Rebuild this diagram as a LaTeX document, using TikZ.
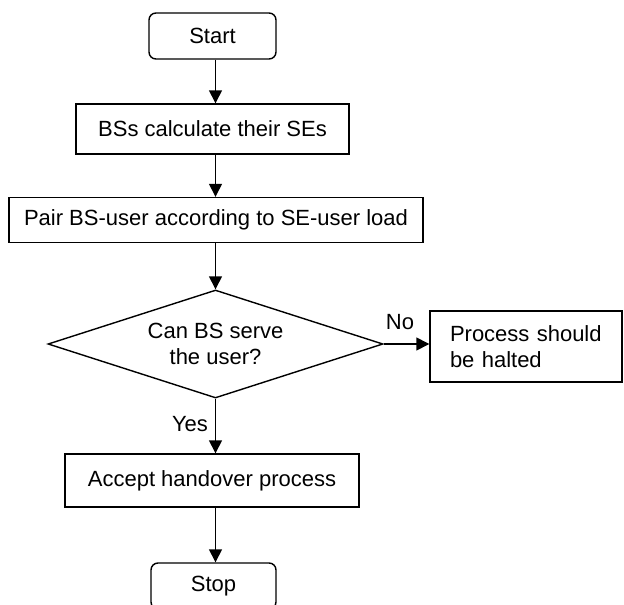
\documentclass[tikz,border=0pt]{standalone}
\usepackage{fontspec}
\setmainfont{Liberation Sans}
\usetikzlibrary{shapes.geometric,arrows.meta}
\begin{document}
\begin{tikzpicture}[x=1pt,y=-1pt,
  every node/.style={font=\fontsize{22}{26}\selectfont, inner sep=0pt},
  procbox/.style={draw, line width=1.4pt, minimum width=#1},
  termbox/.style={draw, line width=1.4pt, rounded corners=7pt, minimum width=127pt, minimum height=46pt},
  arr/.style={line width=1.4pt, -{Triangle[width=13pt,length=13pt]}}
]
\useasboundingbox (0,0) rectangle (624,605);
\node[termbox] (start) at (212.5,36) {Start};
\node[procbox=273pt, minimum height=50pt] (b1) at (212.5,129) {BSs calculate their SEs};
\node[procbox=414pt, minimum height=45pt] (pair) at (216,220) {Pair BS-user according to SE-user load};
\node[draw, diamond, aspect=3.1, line width=1.4pt, minimum width=335pt, minimum height=108pt, align=center] (dec) at (215.5,344) {Can BS serve\\the user?};
\node[procbox=192pt, minimum height=71pt, align=left, text width=152pt] (halt) at (526,346.5) {Process should\\be halted};
\node[procbox=294pt, minimum height=53pt] (acc) at (212,480.5) {Accept handover process};
\node[termbox, minimum width=125pt] (stop) at (213.5,586) {Stop};
\node (no) at (400,322) {No};
\node (yes) at (190,424) {Yes};
\draw[arr] (start.south -| dec.north) -- (b1.north -| dec.north);
\draw[arr] (b1.south -| dec.north) -- (pair.north -| dec.north);
\draw[arr] (pair.south -| dec.north) -- (dec.north);
\draw[arr] (dec.east) -- (halt.west |- dec.east);
\draw[arr] (dec.south) -- (acc.north -| dec.south);
\draw[arr] (acc.south -| dec.south) -- (stop.north -| dec.south);
\end{tikzpicture}
\end{document}
